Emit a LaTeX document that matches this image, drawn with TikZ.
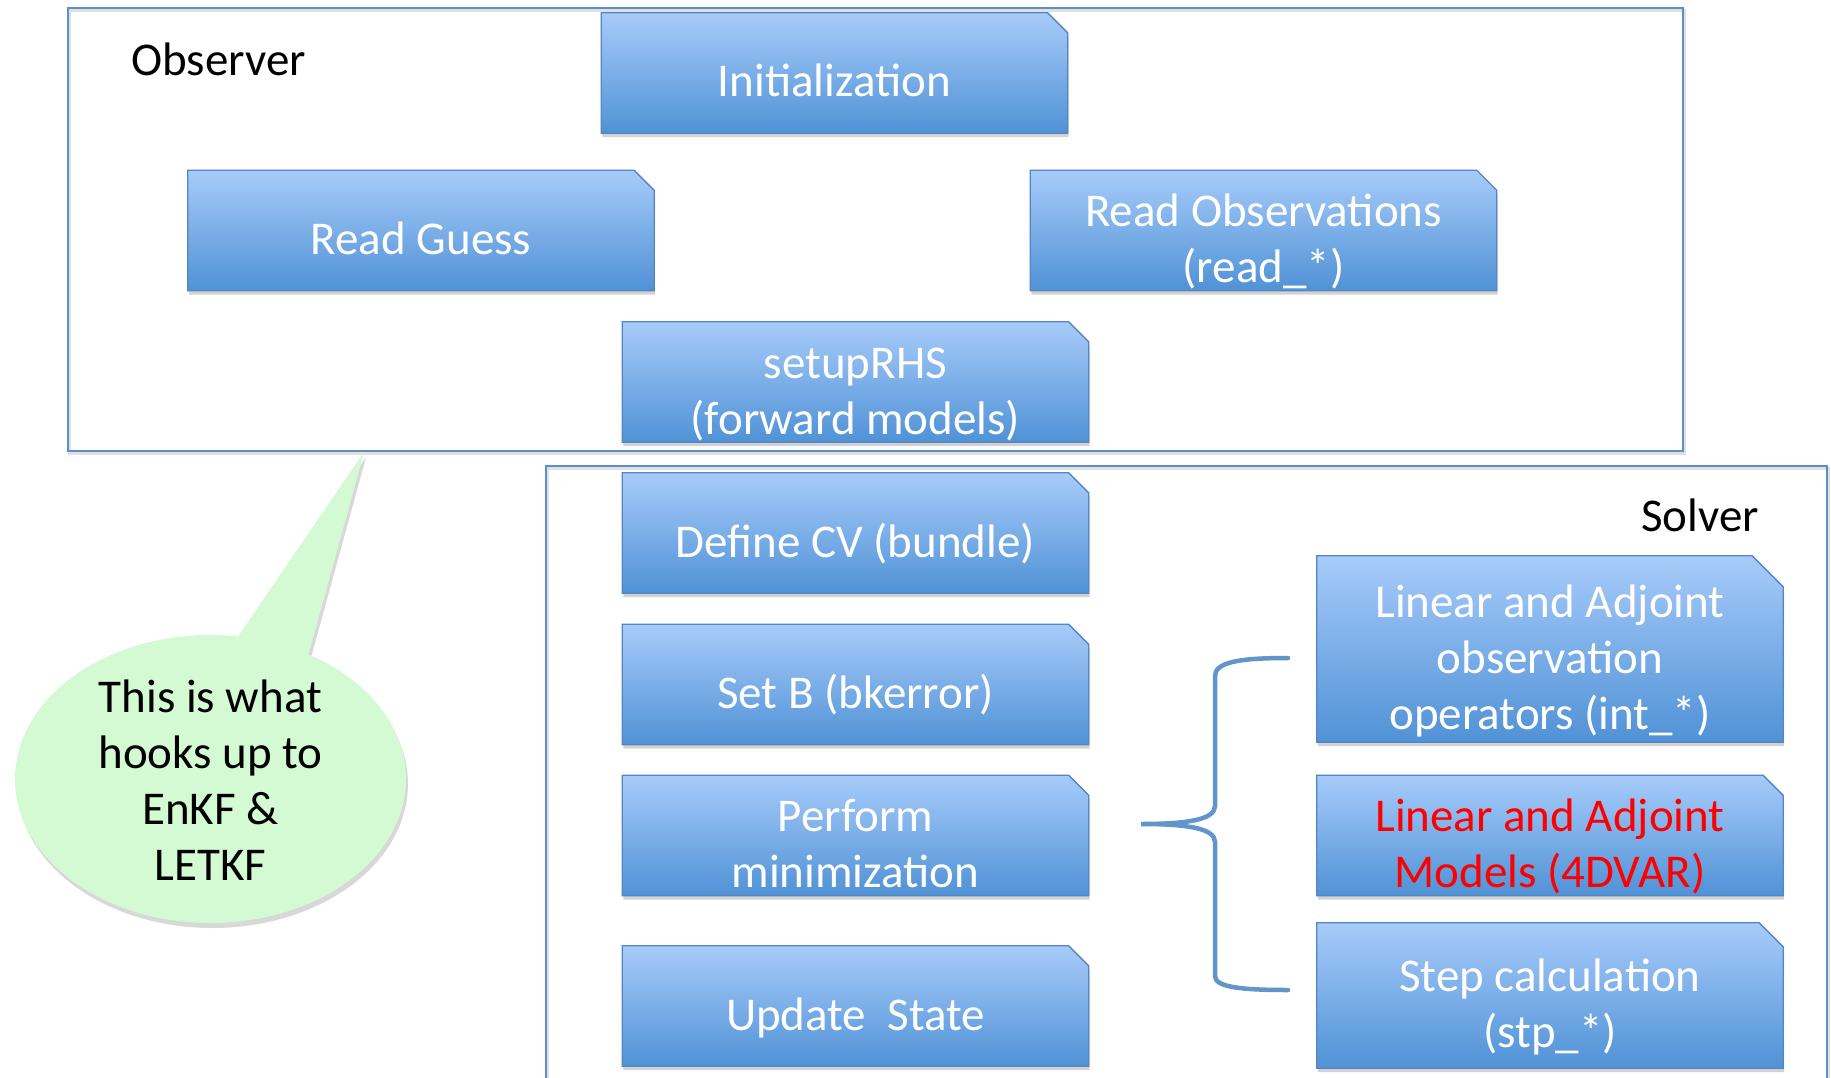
\documentclass[tikz,border=0pt]{standalone}
\usepackage{fontspec}
\setmainfont{Carlito}
\usetikzlibrary{shapes.geometric,shapes.callouts,shadows}

\definecolor{boxtop}{RGB}{167,203,250}
\definecolor{boxbot}{RGB}{80,146,214}
\definecolor{boxedge}{RGB}{84,134,196}
\definecolor{framec}{RGB}{92,142,206}
\definecolor{bracec}{RGB}{98,150,202}
\definecolor{notefill}{RGB}{212,250,212}

% every text line carries the same strut, so blocks of lines centre alike
\newcommand\lnst{\rule[-16pt]{0pt}{80pt}}
\newcommand\bigtext{\fontsize{47}{56}\selectfont\lineskiplimit=-1000pt\relax}

\tikzset{
  stepbox/.style={rectangle, minimum width=466pt, minimum height=120pt, inner sep=0pt},
  boxface/.style={draw=boxedge, line width=1.3pt, line join=miter,
    top color=boxtop, bottom color=boxbot,
    drop shadow={opacity=0.35, shadow xshift=1pt, shadow yshift=-4pt}},
  steptext/.style={inner sep=0pt, align=center, text=white, font=\bigtext},
  frame/.style={rectangle, draw=framec, line width=1.6pt, inner sep=0pt,
    preaction={draw=black!12, line width=3pt,
      transform canvas={xshift=1.5pt, yshift=-2.5pt}}},
  labeltext/.style={inner sep=0pt, font=\bigtext, text=black},
  notetext/.style={inner sep=0pt, align=center, font=\bigtext, text=black},
  brace/.style={draw=bracec, line width=4.5pt, line cap=round},
}

% face of a step: rectangle with its top right corner snipped off
\newcommand\snipface[2][20]{%
  \path[boxface] (#2.south west) -- (#2.north west)
    -- ([xshift=-#1pt]#2.north east) -- ([yshift=-#1pt]#2.north east)
    -- (#2.south east) -- cycle;}

\begin{document}
\begin{tikzpicture}[x=1pt, y=-1pt]
  \path[use as bounding box] (0,0) rectangle (1831,1078);
  \fill[white] (0,0) rectangle (1831,1078);
  \clip (0,0) rectangle (1831,1078);

  % group frames
  \node[frame, minimum width=1615pt, minimum height=443pt] (observer) at (875.5,229.5) {};
  \node[frame, minimum width=1281pt, minimum height=650pt] (solver) at (1186.5,791) {};
  \node[labeltext, anchor=base west] (obslabel) at (131,76) {Observer};
  \node[labeltext, anchor=base west] (solvlabel) at (1641,531) {Solver};

  % observer steps
  \node[stepbox] (init)    at (834.5,73)     {};
  \node[stepbox] (guess)   at (421,230.5)    {};
  \node[stepbox] (readobs) at (1263.5,230.5) {};
  \node[stepbox] (setup)   at (855.5,382)    {};
  \snipface{init} \snipface{guess} \snipface{readobs} \snipface{setup}
  \node[steptext] (init-t)    at (init.center)    {\lnst Initialization};
  \node[steptext] (guess-t)   at (guess.center)   {\lnst Read Guess};
  \node[steptext] (readobs-t) at (readobs.center) {\lnst Read Observations\\\lnst(read\_*)};
  \node[steptext] (setup-t)   at (setup.center)   {\lnst setupRHS\\\lnst(forward models)};

  % solver steps
  \node[stepbox] (definecv) at (855.5,533)   {};
  \node[stepbox] (setb)     at (855.5,684.5) {};
  \node[stepbox] (minim)    at (855.5,835.5) {};
  \node[stepbox] (update)   at (855.5,1006)  {};
  \snipface{definecv} \snipface{setb} \snipface{minim} \snipface{update}
  \node[steptext] (definecv-t) at (definecv.center) {\lnst Define CV (bundle)};
  \node[steptext] (setb-t)     at (setb.center)     {\lnst Set B (bkerror)};
  \node[steptext] (minim-t)    at (minim.center)    {\lnst Perform\\\lnst minimization};
  \node[steptext] (update-t)   at (update.center)   {\lnst Update\ \ State};

  % inner loop pieces
  \node[stepbox, minimum height=186pt] (linobs) at (1550,649) {};
  \node[stepbox] (linmod) at (1550,835.5) {};
  \node[stepbox, minimum height=145pt] (stepcalc) at (1550,995.5) {};
  \snipface[31]{linobs} \snipface{linmod} \snipface[24]{stepcalc}
  \node[steptext] (linobs-t) at (linobs.center)
    {\lnst Linear and Adjoint\\\lnst observation\\\lnst operators (int\_*)};
  \node[steptext, text=red] (linmod-t) at (linmod.center)
    {\lnst Linear and Adjoint\\\lnst Models (4DVAR)};
  \node[steptext] (stepcalc-t) at (stepcalc.center)
    {\lnst Step calculation\\\lnst(stp\_*)};

  % brace grouping the inner loop
  \draw[brace] (1288,658) .. controls (1240,658) and (1215,662) .. (1215,676)
    -- (1215,806) .. controls (1215,819) and (1190,824) .. (1141,824)
    .. controls (1190,824) and (1215,829) .. (1215,842)
    -- (1215,976) .. controls (1215,987) and (1240,990) .. (1288,990);

  % speech bubble pointing at the observer
  \coordinate (hook) at ([xshift=297pt]observer.south west);
  \node[ellipse callout, fill=notefill, draw=none, inner sep=0pt,
    minimum width=391pt, minimum height=288pt,
    callout absolute pointer={(hook)}, callout pointer arc=22,
    drop shadow={opacity=0.3, shadow xshift=2pt, shadow yshift=-5pt}]
    (note) at (210.5,779) {};
  \node[notetext] (notetxt) at (210.5,772)
    {\lnst This is what\\\lnst hooks up to\\\lnst EnKF \&\\\lnst LETKF};
\end{tikzpicture}
\end{document}
